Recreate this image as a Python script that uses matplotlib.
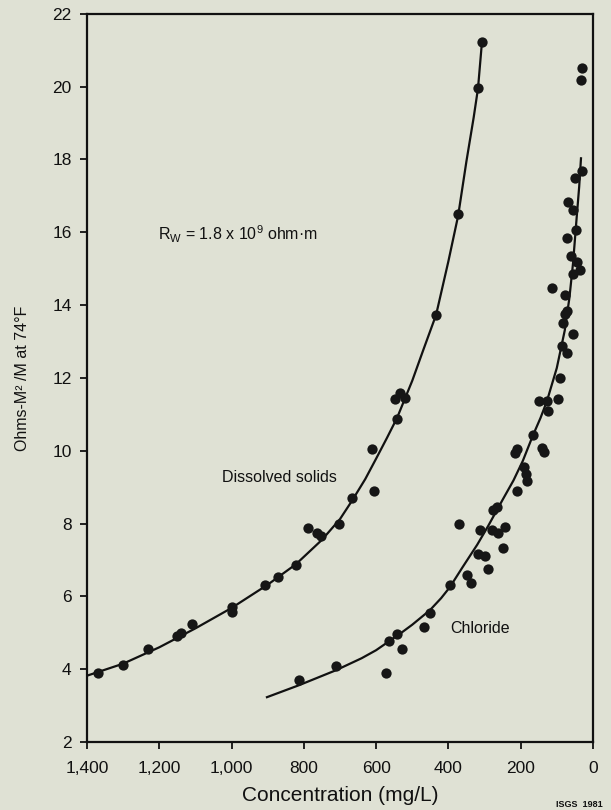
import matplotlib
matplotlib.use("Agg")
import matplotlib.pyplot as plt
import matplotlib.ticker as ticker

plt.rcParams['font.family'] = ['Liberation Sans', 'DejaVu Sans']
plt.rcParams['mathtext.fontset'] = 'custom'
plt.rcParams['mathtext.rm'] = 'Liberation Sans'
plt.rcParams['mathtext.it'] = 'Liberation Sans'

# scatter points (concentration mg/L, ohms)
ds_conc = [1370, 1300, 1231, 1151, 1140, 1110, 999, 999, 907, 871, 822,
           789, 764, 753, 703, 667, 606, 611, 542, 548, 534, 520, 434,
           373, 318, 307]
ds_ohms = [3.89, 4.11, 4.55, 4.90, 4.99, 5.23, 5.70, 5.56, 6.30, 6.52, 6.85,
           7.89, 7.73, 7.67, 8.00, 8.71, 8.90, 10.05, 10.88, 11.42, 11.59, 11.45, 13.73,
           16.49, 19.95, 21.23]

cl_conc = [813, 711, 573, 565, 542, 528, 468, 451, 396, 349, 338, 290,
           318, 299, 249, 243, 263, 280, 313, 371, 266, 277, 210, 183, 185,
           191, 141, 135, 210, 216, 166, 124, 97, 127, 149, 91, 72, 86,
           55, 83, 78, 72, 78, 113, 36, 55, 44, 61, 72, 47, 55, 69, 50,
           30, 33, 30]
cl_ohms = [3.70, 4.08, 3.89, 4.77, 4.96, 4.55, 5.15, 5.53, 6.30, 6.58, 6.36, 6.74,
           7.15, 7.12, 7.34, 7.90, 7.73, 7.81, 7.81, 8.00, 8.44, 8.38, 8.88, 9.18, 9.35,
           9.56, 10.08, 9.97, 10.05, 9.95, 10.44, 11.10, 11.42, 11.37, 11.37, 12.00, 12.69, 12.88,
           13.21, 13.51, 13.75, 13.84, 14.27, 14.47, 14.96, 14.85, 15.18, 15.34, 15.84, 16.05, 16.60, 16.82, 17.48,
           17.67, 20.19, 20.52]

# fitted curves
ds_curve_conc = [1400, 1300, 1200, 1100, 1000, 900, 822, 750, 700, 667, 630, 600,
                 570, 542, 500, 470, 434, 400, 373, 350, 330, 318, 307]
ds_curve_ohms = [3.82, 4.15, 4.60, 5.12, 5.68, 6.32, 6.88, 7.55, 8.12, 8.62, 9.22, 9.78,
                 10.35, 10.90, 11.92, 12.75, 13.73, 15.20, 16.45, 17.95, 19.15, 19.95, 21.23]

cl_curve_conc = [902, 813, 711, 640, 600, 565, 530, 500, 451, 420, 396, 362, 320, 290, 250,
                 220, 194, 166, 145, 127, 100, 78, 65, 55, 45, 38, 33]
cl_curve_ohms = [3.23, 3.56, 3.97, 4.30, 4.52, 4.76, 5.00, 5.22, 5.62, 5.95, 6.25, 6.78, 7.42, 7.93, 8.65,
                 9.18, 9.72, 10.42, 10.90, 11.37, 12.27, 13.30, 14.20, 15.15, 16.40, 17.25, 18.03]

bg = '#dfe1d4'
fig = plt.figure(figsize=(6.11, 8.10), dpi=100, facecolor=bg)
ax = fig.add_axes([0.1424, 0.084, 0.828, 0.899])
ax.set_facecolor(bg)

ax.plot(ds_curve_conc, ds_curve_ohms, color='#111111', lw=1.6, zorder=2)
ax.plot(cl_curve_conc, cl_curve_ohms, color='#111111', lw=1.6, zorder=2)
ax.scatter(ds_conc, ds_ohms, s=55, color='#161616', zorder=3, linewidths=0)
ax.scatter(cl_conc, cl_ohms, s=55, color='#161616', zorder=3, linewidths=0)

ax.set_xlim(1400, 0)
ax.set_ylim(2, 22)
ax.xaxis.set_major_locator(ticker.MultipleLocator(200))
ax.yaxis.set_major_locator(ticker.MultipleLocator(2))
ax.xaxis.set_major_formatter(ticker.FuncFormatter(lambda v, p: f"{int(v):,}"))
ax.tick_params(direction='out', length=5, width=1.3, labelsize=12.5, colors='#111111')
ax.tick_params(axis='x', pad=9)
ax.tick_params(axis='y', pad=6)
for s in ax.spines.values():
    s.set_linewidth(1.6)
    s.set_color('#111111')

ax.set_xlabel('Concentration (mg/L)', fontsize=15, labelpad=7, color='#111111')
ax.set_ylabel('Ohms-M\u00b2 /M at 74\u00b0F', fontsize=11.5, labelpad=16, color='#111111')

ax.text(1026, 9.26, 'Dissolved solids', fontsize=11.5, va='center', ha='left', color='#111111')
ax.text(396, 5.12, 'Chloride', fontsize=11.5, va='center', ha='left', color='#111111')
ax.text(1204, 15.95, 'R$_\\mathregular{W}$ = 1.8 x 10$^\\mathregular{9}$ ohm\u00b7m',
        fontsize=11.5, va='center', ha='left', color='#111111')

fig.text(0.948, 0.007, 'ISGS  1981', fontsize=6.5, fontweight='bold', ha='center', va='center', color='#111111')

fig.savefig('out.png', dpi=100, facecolor=bg)
